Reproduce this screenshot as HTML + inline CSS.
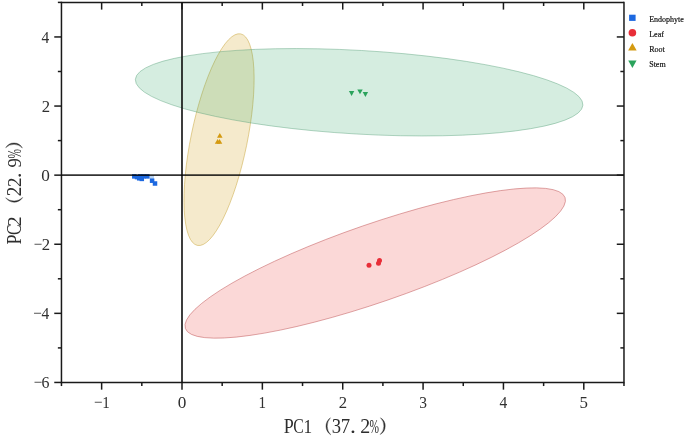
<!DOCTYPE html>
<html><head><meta charset="utf-8"><style>
html,body{margin:0;padding:0;background:#fff;}
body{width:685px;height:438px;overflow:hidden;}
svg{display:block;will-change:transform;}
text{font-family:"Liberation Serif",serif;}
</style></head><body>
<svg width="685" height="438" viewBox="0 0 685 438">
<ellipse cx="375.21" cy="263.02" rx="200.81" ry="39.08" transform="rotate(-19.02 375.21 263.02)" fill="#e93a36" fill-opacity="0.2" stroke="#c0585a" stroke-opacity="0.6" stroke-width="0.8"/>
<ellipse cx="219.05" cy="139.65" rx="107.96" ry="28.15" transform="rotate(-78.43 219.05 139.65)" fill="#d2a017" fill-opacity="0.22" stroke="#c9a73e" stroke-opacity="0.6" stroke-width="0.8"/>
<ellipse cx="359.14" cy="92.26" rx="224.13" ry="41.84" transform="rotate(3.289 359.14 92.26)" fill="#2ca665" fill-opacity="0.2" stroke="#5aa27c" stroke-opacity="0.55" stroke-width="0.8"/>
<rect x="149.5" y="175.5" width="4.5" height="3.3" fill="#b8d4f4"/>
<rect x="132.05" y="174.15" width="4.5" height="4.5" fill="#1c68e0"/>
<rect x="134.75" y="174.85" width="4.5" height="4.5" fill="#1c68e0"/>
<rect x="136.95" y="176.05" width="4.5" height="4.5" fill="#1c68e0"/>
<rect x="137.95" y="174.15" width="4.5" height="4.5" fill="#1c68e0"/>
<rect x="139.55" y="176.65" width="4.5" height="4.5" fill="#1c68e0"/>
<rect x="141.25" y="174.15" width="4.5" height="4.5" fill="#1c68e0"/>
<rect x="145.05" y="174.15" width="4.5" height="4.5" fill="#1c68e0"/>
<rect x="149.85" y="178.45" width="4.5" height="4.5" fill="#1c68e0"/>
<rect x="152.75" y="181.25" width="4.5" height="4.5" fill="#1c68e0"/>
<circle cx="369" cy="265.2" r="2.5" fill="#e82e38"/>
<circle cx="379.5" cy="260.5" r="2.5" fill="#e82e38"/>
<circle cx="378.5" cy="263.3" r="2.5" fill="#e82e38"/>
<polygon points="217.00,137.80 222.60,137.80 219.80,133.00" fill="#d49a10"/>
<polygon points="214.80,143.70 220.40,143.70 217.60,138.90" fill="#d49a10"/>
<polygon points="216.70,143.70 222.30,143.70 219.50,138.90" fill="#d49a10"/>
<polygon points="348.90,91.10 354.30,91.10 351.60,96.00" fill="#2ba35c"/>
<polygon points="357.30,89.40 362.70,89.40 360.00,94.30" fill="#2ba35c"/>
<polygon points="362.70,92.00 368.10,92.00 365.40,96.90" fill="#2ba35c"/>
<g stroke="#1a1a1a" stroke-width="1.5" fill="none" stroke-linecap="butt">
<line x1="61.46000000000001" y1="2.4000000000000057" x2="623.98" y2="2.4000000000000057"/>
<line x1="61.46000000000001" y1="382.45" x2="623.98" y2="382.45"/>
<line x1="61.46000000000001" y1="1.6500000000000057" x2="61.46000000000001" y2="383.2"/>
<line x1="623.98" y1="1.6500000000000057" x2="623.98" y2="383.2"/>
<line x1="182.0" y1="2.4000000000000057" x2="182.0" y2="382.45" stroke="#000" stroke-opacity="0.8" stroke-width="1.9"/>
<line x1="61.46000000000001" y1="175.15" x2="623.98" y2="175.15" stroke="#000" stroke-opacity="0.8" stroke-width="1.9"/>
<line x1="61.46" y1="382.45" x2="61.46" y2="386.05"/>
<line x1="101.64" y1="382.45" x2="101.64" y2="389.65"/>
<line x1="101.64" y1="2.4000000000000057" x2="101.64" y2="9.600000000000005"/>
<line x1="141.82" y1="382.45" x2="141.82" y2="386.05"/>
<line x1="141.82" y1="2.4000000000000057" x2="141.82" y2="6.000000000000005"/>
<line x1="182.00" y1="382.45" x2="182.00" y2="389.65"/>
<line x1="182.00" y1="2.4000000000000057" x2="182.00" y2="9.600000000000005"/>
<line x1="222.18" y1="382.45" x2="222.18" y2="386.05"/>
<line x1="222.18" y1="2.4000000000000057" x2="222.18" y2="6.000000000000005"/>
<line x1="262.36" y1="382.45" x2="262.36" y2="389.65"/>
<line x1="262.36" y1="2.4000000000000057" x2="262.36" y2="9.600000000000005"/>
<line x1="302.54" y1="382.45" x2="302.54" y2="386.05"/>
<line x1="302.54" y1="2.4000000000000057" x2="302.54" y2="6.000000000000005"/>
<line x1="342.72" y1="382.45" x2="342.72" y2="389.65"/>
<line x1="342.72" y1="2.4000000000000057" x2="342.72" y2="9.600000000000005"/>
<line x1="382.90" y1="382.45" x2="382.90" y2="386.05"/>
<line x1="382.90" y1="2.4000000000000057" x2="382.90" y2="6.000000000000005"/>
<line x1="423.08" y1="382.45" x2="423.08" y2="389.65"/>
<line x1="423.08" y1="2.4000000000000057" x2="423.08" y2="9.600000000000005"/>
<line x1="463.26" y1="382.45" x2="463.26" y2="386.05"/>
<line x1="463.26" y1="2.4000000000000057" x2="463.26" y2="6.000000000000005"/>
<line x1="503.44" y1="382.45" x2="503.44" y2="389.65"/>
<line x1="503.44" y1="2.4000000000000057" x2="503.44" y2="9.600000000000005"/>
<line x1="543.62" y1="382.45" x2="543.62" y2="386.05"/>
<line x1="543.62" y1="2.4000000000000057" x2="543.62" y2="6.000000000000005"/>
<line x1="583.80" y1="382.45" x2="583.80" y2="389.65"/>
<line x1="583.80" y1="2.4000000000000057" x2="583.80" y2="9.600000000000005"/>
<line x1="623.98" y1="382.45" x2="623.98" y2="386.05"/>
<line x1="54.260000000000005" y1="382.45" x2="61.46000000000001" y2="382.45"/>
<line x1="57.86000000000001" y1="347.90" x2="61.46000000000001" y2="347.90"/>
<line x1="620.38" y1="347.90" x2="623.98" y2="347.90"/>
<line x1="54.260000000000005" y1="313.35" x2="61.46000000000001" y2="313.35"/>
<line x1="616.78" y1="313.35" x2="623.98" y2="313.35"/>
<line x1="57.86000000000001" y1="278.80" x2="61.46000000000001" y2="278.80"/>
<line x1="620.38" y1="278.80" x2="623.98" y2="278.80"/>
<line x1="54.260000000000005" y1="244.25" x2="61.46000000000001" y2="244.25"/>
<line x1="616.78" y1="244.25" x2="623.98" y2="244.25"/>
<line x1="57.86000000000001" y1="209.70" x2="61.46000000000001" y2="209.70"/>
<line x1="620.38" y1="209.70" x2="623.98" y2="209.70"/>
<line x1="54.260000000000005" y1="175.15" x2="61.46000000000001" y2="175.15"/>
<line x1="616.78" y1="175.15" x2="623.98" y2="175.15"/>
<line x1="57.86000000000001" y1="140.60" x2="61.46000000000001" y2="140.60"/>
<line x1="620.38" y1="140.60" x2="623.98" y2="140.60"/>
<line x1="54.260000000000005" y1="106.05" x2="61.46000000000001" y2="106.05"/>
<line x1="616.78" y1="106.05" x2="623.98" y2="106.05"/>
<line x1="57.86000000000001" y1="71.50" x2="61.46000000000001" y2="71.50"/>
<line x1="620.38" y1="71.50" x2="623.98" y2="71.50"/>
<line x1="54.260000000000005" y1="36.95" x2="61.46000000000001" y2="36.95"/>
<line x1="616.78" y1="36.95" x2="623.98" y2="36.95"/>
<line x1="57.86000000000001" y1="2.40" x2="61.46000000000001" y2="2.40"/>
</g>
<text transform="translate(93.980 407.900) scale(0.15258 0.18071)" font-size="100" fill="#444">−</text>
<text transform="translate(102.317 407.800) scale(0.15055 0.16511)" font-size="100" fill="#303030">1</text>
<text transform="translate(177.694 407.642) scale(0.17224 0.16153)" font-size="100" fill="#303030">0</text>
<text transform="translate(258.387 407.800) scale(0.15055 0.16511)" font-size="100" fill="#303030">1</text>
<text transform="translate(338.636 407.800) scale(0.16713 0.16463)" font-size="100" fill="#303030">2</text>
<text transform="translate(419.139 407.642) scale(0.15493 0.16223)" font-size="100" fill="#303030">3</text>
<text transform="translate(499.537 407.800) scale(0.15489 0.16560)" font-size="100" fill="#303030">4</text>
<text transform="translate(579.419 407.640) scale(0.16880 0.16402)" font-size="100" fill="#303030">5</text>
<text transform="translate(41.616 388.095) scale(0.15916 0.15851)" font-size="100" fill="#303030">6</text>
<text transform="translate(33.640 388.400) scale(0.15258 0.18071)" font-size="100" fill="#444">−</text>
<text transform="translate(41.597 319.150) scale(0.15489 0.16180)" font-size="100" fill="#303030">4</text>
<text transform="translate(33.240 319.300) scale(0.15258 0.18071)" font-size="100" fill="#444">−</text>
<text transform="translate(41.666 250.050) scale(0.16713 0.16085)" font-size="100" fill="#303030">2</text>
<text transform="translate(33.740 250.200) scale(0.15258 0.18071)" font-size="100" fill="#444">−</text>
<text transform="translate(41.144 180.796) scale(0.17224 0.15782)" font-size="100" fill="#303030">0</text>
<text transform="translate(41.666 111.850) scale(0.16713 0.16085)" font-size="100" fill="#303030">2</text>
<text transform="translate(41.597 42.750) scale(0.15489 0.16180)" font-size="100" fill="#303030">4</text>
<g transform="translate(284.2 433.1)"><text transform="translate(-0.520 0.000) scale(0.18059 0.20007)" font-size="100" fill="#2e2e2e">P</text><text transform="translate(8.953 0.004) scale(0.15767 0.20093)" font-size="100" fill="#2e2e2e">C</text><text transform="translate(19.177 0.000) scale(0.17327 0.19844)" font-size="100" fill="#2e2e2e">1</text><text transform="translate(47.608 0.005) scale(0.18640 0.19944)" font-size="100" fill="#2e2e2e">3</text><text transform="translate(56.664 0.000) scale(0.18753 0.20007)" font-size="100" fill="#2e2e2e">7</text><text transform="translate(65.838 -0.312) scale(0.23696 0.22003)" font-size="100" fill="#2e2e2e">.</text><text transform="translate(76.123 0.100) scale(0.19956 0.20087)" font-size="100" fill="#2e2e2e">2</text><text transform="translate(85.411 -0.159) scale(0.11378 0.19610)" font-size="100" fill="#2e2e2e">%</text><path d="M46.2,-15.3 A10.217,10.217 0 0 0 46.5,1.7 A12.462,12.462 0 0 1 46.2,-15.3Z" fill="#2e2e2e" stroke="#2e2e2e" stroke-width="0.4" stroke-linejoin="round"/><path d="M96.3,-15.3 A9.615,9.615 0 0 1 96.0,1.4 A11.598,11.598 0 0 0 96.3,-15.3Z" fill="#2e2e2e" stroke="#2e2e2e" stroke-width="0.4" stroke-linejoin="round"/></g>
<g transform="translate(21.0 244.0) rotate(-90)"><text transform="translate(-0.520 0.000) scale(0.18059 0.20007)" font-size="100" fill="#2e2e2e">P</text><text transform="translate(8.953 0.004) scale(0.15767 0.20093)" font-size="100" fill="#2e2e2e">C</text><text transform="translate(17.501 0.000) scale(0.20455 0.19785)" font-size="100" fill="#2e2e2e">2</text><text transform="translate(47.656 0.200) scale(0.19208 0.20238)" font-size="100" fill="#2e2e2e">2</text><text transform="translate(57.067 0.000) scale(0.18958 0.19785)" font-size="100" fill="#2e2e2e">2</text><text transform="translate(65.838 -0.312) scale(0.23696 0.22003)" font-size="100" fill="#2e2e2e">.</text><text transform="translate(76.396 -0.093) scale(0.18746 0.19795)" font-size="100" fill="#2e2e2e">9</text><text transform="translate(85.411 -0.159) scale(0.11378 0.19610)" font-size="100" fill="#2e2e2e">%</text><path d="M46.2,-15.3 A10.217,10.217 0 0 0 46.5,1.7 A12.462,12.462 0 0 1 46.2,-15.3Z" fill="#2e2e2e" stroke="#2e2e2e" stroke-width="0.4" stroke-linejoin="round"/><path d="M96.3,-15.3 A9.615,9.615 0 0 1 96.0,1.4 A11.598,11.598 0 0 0 96.3,-15.3Z" fill="#2e2e2e" stroke="#2e2e2e" stroke-width="0.4" stroke-linejoin="round"/></g>
<rect x="629.1" y="14.7" width="6.5" height="6.2" fill="#1c68e0"/>
<circle cx="632.4" cy="32.8" r="3.8" fill="#e82e38"/>
<polygon points="628.15,50.60 636.65,50.60 632.40,43.10" fill="#d49a10"/>
<polygon points="628.25,60.50 636.55,60.50 632.40,68.00" fill="#2ba35c"/>
<text x="649.2" y="22.0" font-size="8" fill="#111" stroke="#111" stroke-width="0.18">Endophyte</text>
<text x="649.2" y="36.7" font-size="8" fill="#111" stroke="#111" stroke-width="0.18">Leaf</text>
<text x="649.2" y="52.0" font-size="8" fill="#111" stroke="#111" stroke-width="0.18">Root</text>
<text x="649.2" y="66.9" font-size="8" fill="#111" stroke="#111" stroke-width="0.18">Stem</text>
</svg>
</body></html>
